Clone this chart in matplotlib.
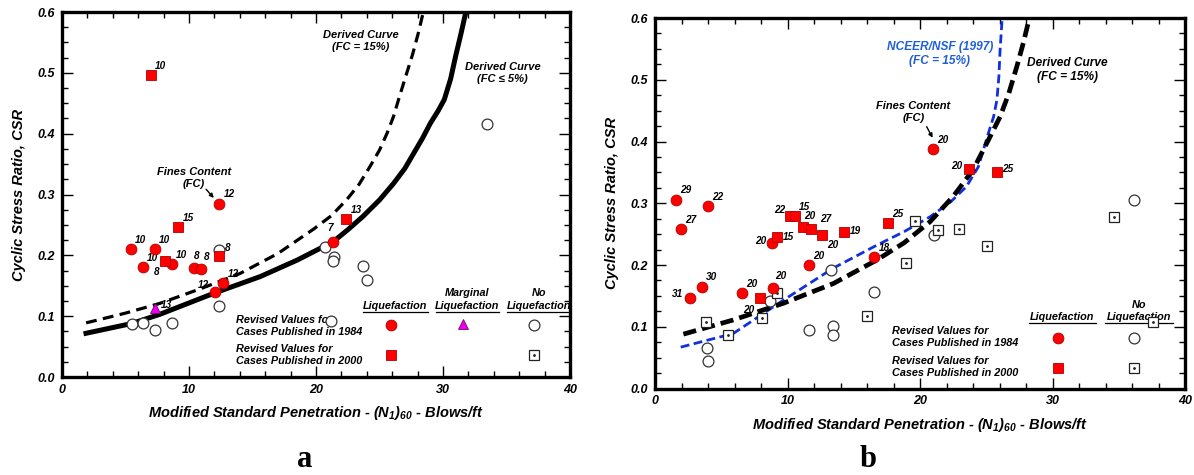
import matplotlib

matplotlib.use("Agg")
import matplotlib.pyplot as plt
from matplotlib.ticker import MultipleLocator, FormatStrFormatter

plt.rcParams["font.family"] = ["Liberation Sans", "DejaVu Sans"]
plt.rcParams["font.weight"] = "bold"
plt.rcParams["font.style"] = "italic"

# ---- panel a data ----
a_liq84_x = [12.39, 5.43, 7.3, 6.35, 8.66, 10.37, 10.92, 12.7, 12.05, 21.36]
a_liq84_y = [0.285, 0.210, 0.210, 0.181, 0.185, 0.179, 0.178, 0.155, 0.140, 0.2225]
a_liq84_fc = ["12", "10", "10", "10", "10", "8", "8", "12", "12", "7"]

a_liq00_x = [7.0, 9.16, 8.14, 12.39, 22.4]
a_liq00_y = [0.496, 0.247, 0.190, 0.199, 0.259]
a_liq00_fc = ["10", "15", "8", "8", "13"]

a_marg_x = [7.32]
a_marg_y = [0.114]
a_marg_fc = ["13"]

a_no84_x = [12.39, 12.39, 5.49, 6.35, 7.32, 8.66, 20.7, 21.4, 21.3, 23.7, 24.0, 21.2, 33.5]
a_no84_y = [0.209, 0.117, 0.087, 0.089, 0.077, 0.089, 0.213, 0.198, 0.191, 0.183, 0.160, 0.092, 0.416]

a_fc15_x = [1.9, 5.0, 7.7, 10.9, 14.0, 17.0, 19.8, 21.2, 22.4, 23.4, 24.25, 25.0, 25.6, 26.1, 26.5,
            27.0, 27.6, 28.05, 28.45]
a_fc15_y = [0.089, 0.105, 0.121, 0.145, 0.170, 0.203, 0.243, 0.265, 0.291, 0.317, 0.346, 0.373,
            0.401, 0.428, 0.456, 0.490, 0.530, 0.565, 0.600]
a_fc5_x = [1.7, 5.5, 7.7, 12.0, 15.6, 18.5, 21.36, 22.5, 23.7, 25.0, 26.1, 27.0, 27.7, 28.4, 29.0,
           29.6, 30.1, 30.6, 31.0, 31.4, 31.8]
a_fc5_y = [0.071, 0.088, 0.103, 0.138, 0.165, 0.192, 0.2225, 0.242, 0.264, 0.291, 0.318, 0.343,
           0.368, 0.393, 0.417, 0.437, 0.456, 0.490, 0.528, 0.563, 0.600]

# ---- panel b data ----
b_liq84_x = [1.56, 4.03, 1.96, 3.52, 2.64, 6.57, 8.93, 8.8, 11.6, 16.55, 21.0]
b_liq84_y = [0.306, 0.296, 0.258, 0.165, 0.147, 0.155, 0.163, 0.236, 0.200, 0.213, 0.388]
b_liq84_fc = ["29", "22", "27", "30", "31", "20", "20", "20", "20", "18", "20"]

b_liq00_x = [7.92, 9.23, 10.19, 10.57, 11.15, 11.8, 12.6, 14.26, 17.6, 23.72, 25.8]
b_liq00_y = [0.146, 0.246, 0.279, 0.279, 0.262, 0.259, 0.249, 0.253, 0.268, 0.355, 0.350]
b_liq00_fc = ["20", "15", "22", "15", "20", "27", "20", "19", "25", "20", "25"]

b_no84_x = [13.28, 8.68, 16.55, 11.62, 13.46, 13.46, 3.95, 4.03, 21.08, 36.17]
b_no84_y = [0.192, 0.141, 0.156, 0.094, 0.101, 0.086, 0.066, 0.044, 0.249, 0.305]

b_no00_x = [3.82, 5.51, 8.08, 9.23, 16.02, 19.65, 21.33, 22.97, 25.06, 18.94, 34.66, 37.6]
b_no00_y = [0.108, 0.087, 0.114, 0.155, 0.118, 0.271, 0.256, 0.259, 0.230, 0.203, 0.278, 0.108]

b_fc15_x = [2.14, 5.9, 9.68, 13.46, 16.73, 18.8, 20.75, 22.5, 24.0, 25.15, 26.04, 26.7, 27.3, 27.8, 28.25]
b_fc15_y = [0.088, 0.111, 0.138, 0.170, 0.208, 0.236, 0.270, 0.311, 0.354, 0.402, 0.440, 0.478,
            0.521, 0.560, 0.600]
b_nceer_x = [1.94, 5.9, 9.68, 13.46, 16.73, 18.8, 20.75, 22.3, 23.5, 24.4, 25.15, 25.55, 25.8, 25.95,
             26.04, 26.2]
b_nceer_y = [0.067, 0.089, 0.143, 0.195, 0.232, 0.254, 0.278, 0.302, 0.327, 0.359, 0.413, 0.440,
             0.467, 0.505, 0.548, 0.600]

RED = "#ff0000"
REDEDGE = "#b00000"
MAGENTA = "#e800e8"
BLUE = "#1f5fd6"
LBL = dict(fontsize=7.2, fontweight="bold", fontstyle="italic")


def liq_circle(ax, x, y):
    ax.plot(x, y, "o", ms=7.8, mfc=RED, mec=REDEDGE, mew=0.6, ls="none", clip_on=False, zorder=5)


def liq_square(ax, x, y):
    ax.plot(x, y, "s", ms=6.7, mfc=RED, mec=REDEDGE, mew=0.6, ls="none", clip_on=False, zorder=5)


def no_circle(ax, x, y):
    ax.plot(x, y, "o", ms=7.8, mfc="white", mec="#333333", mew=0.9, ls="none", clip_on=False, zorder=4)


def no_box(ax, x, y):
    ax.plot(x, y, "s", ms=6.5, mfc="white", mec="#222222", mew=0.9, ls="none", clip_on=False, zorder=4)
    ax.plot(x, y, ".", ms=2, color="#222222", ls="none", clip_on=False, zorder=4)


def label_points(ax, xs, ys, labels, offsets):
    for i, (x, y, t) in enumerate(zip(xs, ys, labels)):
        dx, dy, ha = offsets.get(i, (3, 3, "left"))
        ax.annotate(t, (x, y), xytext=(dx, dy), textcoords="offset points",
                    ha=ha, va="bottom", **LBL)


def style_axes(ax):
    ax.set_xlim(0, 40)
    ax.set_ylim(0, 0.6)
    ax.xaxis.set_major_locator(MultipleLocator(10))
    ax.xaxis.set_minor_locator(MultipleLocator(2))
    ax.yaxis.set_major_locator(MultipleLocator(0.1))
    ax.yaxis.set_minor_locator(MultipleLocator(0.025))
    ax.yaxis.set_major_formatter(FormatStrFormatter("%.1f"))
    ax.tick_params(which="both", direction="in", top=True, right=True, width=1)
    ax.tick_params(which="major", length=8, labelsize=9, pad=5)
    ax.tick_params(which="minor", length=4)
    for lab in ax.get_xticklabels() + ax.get_yticklabels():
        lab.set_fontweight("bold")
        lab.set_fontstyle("italic")
    for sp in ax.spines.values():
        sp.set_linewidth(2.4)
    ax.set_xlabel(r"Modified Standard Penetration - (N$_\mathbf{\mathit{1}}$)$_\mathbf{\mathit{60}}$ - Blows/ft",
                  fontsize=10.5, fontweight="bold", fontstyle="italic", labelpad=6)
    ax.set_ylabel("Cyclic Stress Ratio, CSR", fontsize=10.5, fontweight="bold",
                  fontstyle="italic", labelpad=8)


def underline(ax, x0, x1, y):
    ax.plot([x0, x1], [y, y], color="black", lw=0.9, clip_on=False)


plt.rcParams["mathtext.fontset"] = "custom"
plt.rcParams["mathtext.it"] = "Liberation Sans:italic:bold"
plt.rcParams["mathtext.rm"] = "Liberation Sans:italic:bold"
plt.rcParams["mathtext.bf"] = "Liberation Sans:italic:bold"

fig = plt.figure(figsize=(11.94, 4.75), dpi=100)
axa = fig.add_axes([0.0519, 0.2063, 0.4255, 0.7684])
axb = fig.add_axes([0.5486, 0.1821, 0.4439, 0.7800])

# ---------------- panel a ----------------
axa.plot(a_fc15_x, a_fc15_y, color="black", lw=2.3, dashes=(3.4, 2.0))
axa.plot(a_fc5_x, a_fc5_y, color="black", lw=3.6, solid_capstyle="butt", solid_joinstyle="round")
no_circle(axa, a_no84_x, a_no84_y)
liq_circle(axa, a_liq84_x, a_liq84_y)
liq_square(axa, a_liq00_x, a_liq00_y)
axa.plot(a_marg_x, a_marg_y, "^", ms=7, mfc=MAGENTA, mec="#800080", mew=0.6, ls="none", zorder=5)

label_points(axa, a_liq84_x, a_liq84_y, a_liq84_fc,
             {5: (0, 5, "left"), 6: (2, 5, "left"), 8: (-4, 1, "right"), 9: (-2, 6, "center")})
label_points(axa, a_liq00_x, a_liq00_y, a_liq00_fc,
             {2: (-6, -11, "center"), 3: (4, 2, "left")})
label_points(axa, a_marg_x, a_marg_y, a_marg_fc, {0: (4, -2, "left")})

TXT = dict(fontsize=8.0, fontweight="bold", fontstyle="italic", ha="center", va="center",
           linespacing=1.25)
axa.text(23.5, 0.553, "Derived Curve\n(FC = 15%)", **TXT)
axa.text(34.7, 0.500, "Derived Curve\n(FC \u2264 5%)", **TXT)
axa.text(10.4, 0.327, "Fines Content\n(FC)", **TXT)
axa.annotate("", xy=(12.1, 0.291), xytext=(11.2, 0.312),
             arrowprops=dict(arrowstyle="-|>", color="black", lw=1.0, mutation_scale=6))

# legend block a
LEG = dict(fontsize=7.8, fontweight="bold", fontstyle="italic", va="center", linespacing=1.3)
axa.text(13.7, 0.084, "Revised Values for\nCases Published in 1984", ha="left", **LEG)
axa.text(13.7, 0.036, "Revised Values for\nCases Published in 2000", ha="left", **LEG)
axa.text(26.25, 0.117, "Liquefaction", ha="center", **LEG)
axa.text(31.9, 0.117, "Liquefaction", ha="center", **LEG)
axa.text(31.9, 0.138, "Marginal", ha="center", **LEG)
axa.text(37.55, 0.117, "Liquefaction", ha="center", **LEG)
axa.text(37.55, 0.138, "No", ha="center", **LEG)
underline(axa, 23.7, 28.8, 0.107)
underline(axa, 29.45, 34.43, 0.107)
underline(axa, 35.0, 40.0, 0.107)
liq_circle(axa, [25.9], [0.085])
liq_square(axa, [25.9], [0.036])
axa.plot([31.55], [0.087], "^", ms=7, mfc=MAGENTA, mec="#800080", mew=0.6, ls="none")
no_circle(axa, [37.2], [0.085])
no_box(axa, [37.2], [0.036])
style_axes(axa)

# ---------------- panel b ----------------
axb.plot(b_nceer_x, b_nceer_y, color="#1030e0", lw=2.0, dashes=(3.2, 1.6))
axb.plot(b_fc15_x, b_fc15_y, color="black", lw=3.4, dashes=(2.8, 1.3))
no_circle(axb, b_no84_x, b_no84_y)
no_box(axb, b_no00_x, b_no00_y)
liq_circle(axb, b_liq84_x, b_liq84_y)
liq_square(axb, b_liq00_x, b_liq00_y)

label_points(axb, b_liq84_x, b_liq84_y, b_liq84_fc,
             {4: (-5, -1, "right"), 6: (1, 5, "left"), 7: (-4, -2, "right")})
label_points(axb, b_liq00_x, b_liq00_y, b_liq00_fc,
             {0: (-4, -12, "right"), 1: (4, -4, "left"), 2: (-3, 1, "right"),
              4: (1, 4, "left"), 5: (6, 3, "left"),
              6: (4, -11, "left"), 7: (4, -3, "left"), 9: (-5, -1, "right"), 10: (4, -1, "left")})

axb.text(21.5, 0.542, "NCEER/NSF (1997)\n(FC = 15%)", color=BLUE, **dict(TXT, fontsize=8.6))
axb.text(31.1, 0.516, "Derived Curve\n(FC = 15%)", **dict(TXT, fontsize=8.6))
axb.text(19.5, 0.447, "Fines Content\n(FC)", **TXT)
axb.annotate("", xy=(21.05, 0.402), xytext=(20.4, 0.428),
             arrowprops=dict(arrowstyle="-|>", color="black", lw=1.0, mutation_scale=6))

axb.text(17.9, 0.083, "Revised Values for\nCases Published in 1984", ha="left", **LEG)
axb.text(17.9, 0.035, "Revised Values for\nCases Published in 2000", ha="left", **LEG)
axb.text(30.75, 0.115, "Liquefaction", ha="center", **LEG)
axb.text(36.5, 0.115, "Liquefaction", ha="center", **LEG)
axb.text(36.5, 0.135, "No", ha="center", **LEG)
underline(axb, 28.2, 33.3, 0.1056)
underline(axb, 33.96, 39.07, 0.1056)
liq_circle(axb, [30.4], [0.082])
liq_square(axb, [30.4], [0.034])
no_circle(axb, [36.15], [0.082])
no_box(axb, [36.15], [0.034])
style_axes(axb)

fig.text(0.2555, 0.032, "a", fontsize=22, fontweight="bold", fontstyle="normal",
         family="Liberation Serif", ha="center", va="center")
fig.text(0.727, 0.032, "b", fontsize=22, fontweight="bold", fontstyle="normal",
         family="Liberation Serif", ha="center", va="center")

fig.savefig("out.png", dpi=100)
